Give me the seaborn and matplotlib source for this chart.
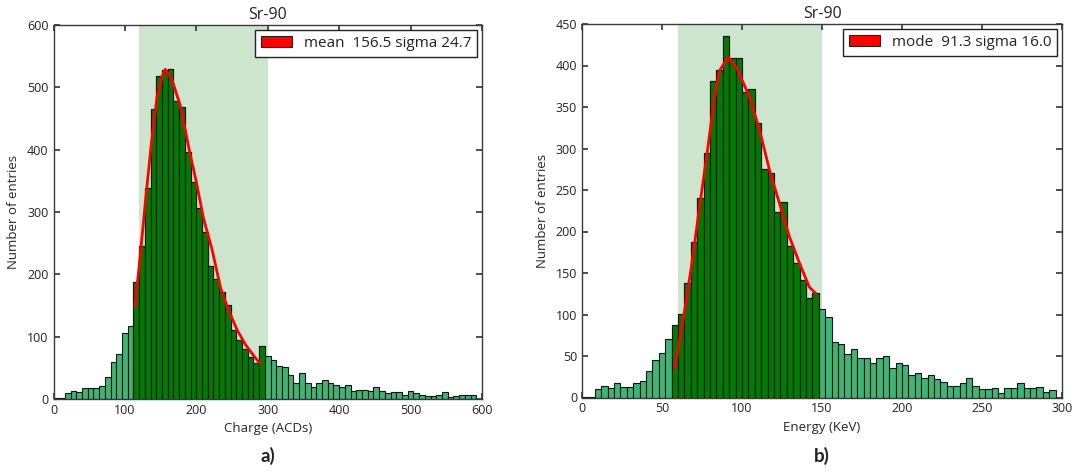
import numpy as np
import pandas as pd
import matplotlib
matplotlib.use("Agg")
import matplotlib.pyplot as plt
from matplotlib.patches import Patch
import seaborn as sns

# ---- Sr-90 charge spectrum (bins of 8 ACD from 0 to 600) ----
charge_binwidth = 8
charge_range = (0, 600)
charge_counts = [
    1, 2, 9, 13, 12, 17, 17, 18, 21, 35, 60, 72, 106, 117,
    188, 245, 339, 466, 518, 528, 529, 478, 469, 396, 348, 307, 268, 213,
    192, 171, 151, 111, 94, 81, 68, 58, 85,
    69, 62, 53, 51, 38, 26, 42, 25, 19, 25, 31, 25, 22, 20, 22, 13, 14,
    14, 13, 20, 13, 9, 11, 12, 6, 13, 9, 6, 5, 5, 6, 11, 4, 5, 6, 6, 7, 0,
]
charge_fit_x = [114, 121, 129, 137, 145, 153, 156.5, 166, 178, 190, 200,
                210, 222, 234, 245, 257, 269, 280, 289]
charge_fit_y = [148, 225, 320, 410, 485, 520, 529, 512, 469, 400, 348,
                290, 240, 178, 143, 111, 87, 70, 57]
charge_mean, charge_sigma = 156.5, 24.7
charge_window = (120, 300)

# ---- Sr-90 energy spectrum (bins of 4 keV from 0 to 300) ----
energy_binwidth = 4
energy_range = (0, 300)
energy_counts = [
    1, 1, 10, 14, 11, 18, 13, 13, 17, 20, 32, 45, 54, 70,
    87, 101, 138, 187, 240, 295, 381, 395, 435, 409, 409, 368, 372, 331,
    275, 270, 223, 235, 182, 162, 142, 120, 126,
    107, 97, 67, 64, 52, 58, 47, 47, 42, 48, 50, 36, 41, 39, 27, 30, 24,
    27, 22, 19, 14, 14, 18, 24, 14, 10, 10, 12, 6, 11, 12, 17, 11, 11, 13, 7, 9, 0,
]
energy_fit_x = [58, 63.2, 68.4, 73.5, 78.7, 82.9, 86, 91.3, 97, 104.7,
                111, 117.2, 123.4, 129.6, 135.9, 142.1, 146.3]
energy_fit_y = [35, 93, 158, 230, 302, 362, 394, 410, 396, 362,
                322, 274, 234, 194, 162, 133, 125]
energy_mode, energy_sigma = 91.3, 16.0
energy_window = (60, 150)

# bins drawn in the darker colour (the fitted region)
FIT_FIRST, FIT_LAST = 14, 36

LIGHT = "#40b475"
DARK = "#007a00"
EDGE = "#141414"

sns.set_theme(style="white")
plt.rcParams.update({
    "font.family": ["Open Sans", "DejaVu Sans"],
    "xtick.direction": "in",
    "ytick.direction": "in",
    "xtick.top": True,
    "ytick.right": True,
    "xtick.bottom": True,
    "ytick.left": True,
    "xtick.major.size": 4,
    "ytick.major.size": 4,
    "xtick.labelsize": 9,
    "ytick.labelsize": 9,
    "axes.edgecolor": "#3a3a3a",
    "axes.linewidth": 1.0,
    "text.color": "#222222",
    "xtick.color": "#3a3a3a",
    "ytick.color": "#3a3a3a",
    "xtick.labelcolor": "#222222",
    "ytick.labelcolor": "#222222",
})


def spectrum(ax, binwidth, brange, counts, fit_x, fit_y, window, label,
             xlabel, ylim, xstep, ystep):
    counts = np.asarray(counts, dtype=float)
    n_bins = len(counts)
    centers = brange[0] + binwidth * (np.arange(n_bins) + 0.5)
    df = pd.DataFrame({"x": centers, "n": counts})
    fit_df = df.iloc[FIT_FIRST:FIT_LAST + 1]
    fit_range = (brange[0] + binwidth * FIT_FIRST,
                 brange[0] + binwidth * (FIT_LAST + 1))

    ax.axvspan(*window, color="green", alpha=0.2, lw=0, zorder=0)
    sns.histplot(data=df, x="x", weights="n", binwidth=binwidth,
                 binrange=brange, ax=ax, color=LIGHT, alpha=1,
                 edgecolor=EDGE, linewidth=0.8, zorder=2)
    sns.histplot(data=fit_df, x="x", weights="n", binwidth=binwidth,
                 binrange=fit_range, ax=ax, color=DARK, alpha=1,
                 edgecolor=EDGE, linewidth=0.8, zorder=3)
    sns.lineplot(x=fit_x, y=fit_y, ax=ax, color="red", lw=2, zorder=4)

    ax.set_xlim(*brange)
    ax.set_ylim(*ylim)
    ax.set_xticks(np.arange(brange[0], brange[1] + 1, xstep))
    ax.set_yticks(np.arange(ylim[0], ylim[1] + 1, ystep))
    ax.set_title("Sr-90", fontsize=11.5, pad=4)
    ax.set_xlabel(xlabel, fontsize=9.5, labelpad=4)
    ax.set_ylabel("Number of entries", fontsize=9.5, labelpad=5)
    handle = Patch(facecolor="red", edgecolor="#222222", linewidth=0.8)
    leg = ax.legend([handle], [label], loc="upper right", fontsize=11,
                    fancybox=False, framealpha=1, borderaxespad=0.3,
                    handlelength=2.0, handleheight=0.8, borderpad=0.4,
                    handletextpad=0.8)
    leg.get_frame().set_edgecolor("#222222")
    leg.get_frame().set_linewidth(1.0)
    for s in ax.spines.values():
        s.set_visible(True)


fig = plt.figure(figsize=(10.8, 4.74), dpi=100)
ax1 = fig.add_axes([53.5 / 1080, 75 / 474, 428.5 / 1080, 374 / 474])
ax2 = fig.add_axes([582 / 1080, 76.5 / 474, 480 / 1080, 373.5 / 474])

spectrum(ax1, charge_binwidth, charge_range, charge_counts, charge_fit_x,
         charge_fit_y, charge_window,
         f"mean  {charge_mean:.1f} sigma {charge_sigma:.1f}",
         "Charge (ACDs)", (0, 600), 100, 100)
spectrum(ax2, energy_binwidth, energy_range, energy_counts, energy_fit_x,
         energy_fit_y, energy_window,
         f"mode  {energy_mode:.1f} sigma {energy_sigma:.1f}",
         "Energy (KeV)", (0, 450), 50, 50)

fig.text(268 / 1080, 1 - 456 / 474, "a)", ha="center", va="center",
         fontsize=13.5, fontweight="bold", family=["Lato", "DejaVu Sans"])
fig.text(822 / 1080, 1 - 456 / 474, "b)", ha="center", va="center",
         fontsize=13.5, fontweight="bold", family=["Lato", "DejaVu Sans"])

fig.savefig("out.png", dpi=100)
